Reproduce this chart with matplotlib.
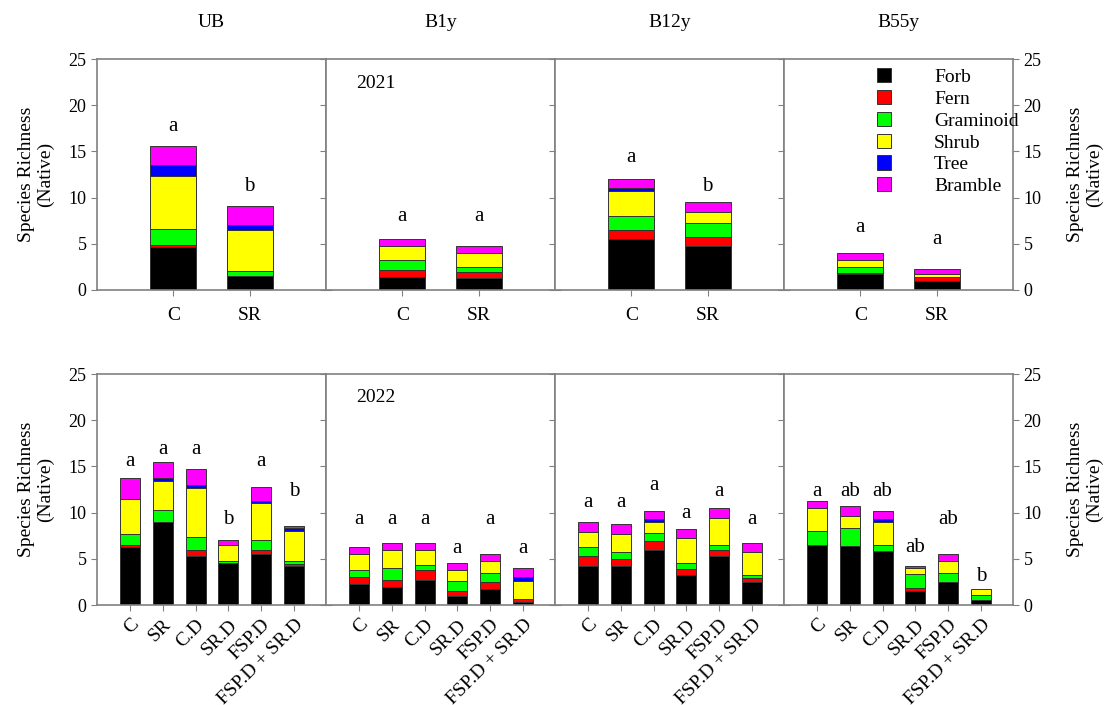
import numpy as np
import matplotlib
matplotlib.use("Agg")
import matplotlib.pyplot as plt
from matplotlib.patches import Patch

plt.rcParams['font.family'] = ['Liberation Serif', 'DejaVu Serif']

sites = ["UB", "B1y", "B12y", "B55y"]
groups_2021 = ["C", "SR"]
groups_2022 = ["C", "SR", "C.D", "SR.D", "FSP.D", "FSP.D + SR.D"]
categories = ["Forb", "Fern", "Graminoid", "Shrub", "Tree", "Bramble"]
colors = ["#000000", "#FF0000", "#00FF00", "#FFFF00", "#0000FF", "#FF00FF"]

# 2021: per site, per category, values for [C, SR]
forb_2021 = [[4.65, 1.5], [1.45, 1.27], [5.5, 4.73], [1.75, 0.95]]
fern_2021 = [[0.2, 0.0], [0.73, 0.69], [1.0, 1.02], [0.1, 0.5]]
gram_2021 = [[1.7, 0.55], [1.12, 0.51], [1.55, 1.52], [0.62, 0.0]]
shrub_2021 = [[5.75, 4.45], [1.43, 1.53], [2.7, 1.2], [0.8, 0.3]]
tree_2021 = [[1.2, 0.55], [0.0, 0.0], [0.3, 0.0], [0.0, 0.0]]
bramble_2021 = [[2.05, 2.0], [0.76, 0.76], [1.0, 1.02], [0.77, 0.5]]
letters_2021 = [["a", "b"], ["a", "a"], ["a", "b"], ["a", "a"]]
letter_y_2021 = [[17.7, 11.2], [8.0, 8.0], [14.3, 11.2], [6.8, 5.5]]

# 2022: per site, per category, values for the six treatments
forb_2022 = [[6.23, 9.0, 5.33, 4.53, 5.5, 4.24],
             [2.25, 2.0, 2.72, 0.98, 1.74, 0.36],
             [4.24, 4.24, 5.98, 3.3, 5.25, 2.5],
             [6.52, 6.34, 5.8, 1.52, 2.54, 0.54]]
fern_2022 = [[0.22, 0.0, 0.65, 0.0, 0.48, 0.25],
             [0.75, 0.72, 1.08, 0.51, 0.76, 0.26],
             [1.01, 0.72, 0.98, 0.61, 0.69, 0.47],
             [0.0, 0.0, 0.0, 0.29, 0.0, 0.0]]
gram_2022 = [[1.27, 1.23, 1.38, 0.22, 1.01, 0.22],
             [0.8, 1.27, 0.48, 1.08, 1.01, 0.0],
             [1.02, 0.76, 0.83, 0.62, 0.58, 0.33],
             [1.45, 1.99, 0.72, 1.52, 0.97, 0.55]]
shrub_2022 = [[3.73, 3.2, 5.28, 1.7, 4.0, 3.26],
              [1.7, 1.99, 1.7, 1.23, 1.2, 2.02],
              [1.66, 2.0, 1.16, 2.72, 2.94, 2.42],
              [2.53, 1.34, 2.43, 0.66, 1.2, 0.69]]
tree_2022 = [[0.0, 0.33, 0.4, 0.0, 0.29, 0.36],
             [0.0, 0.0, 0.0, 0.0, 0.0, 0.36],
             [0.0, 0.0, 0.33, 0.0, 0.0, 0.0],
             [0.0, 0.0, 0.36, 0.0, 0.0, 0.0]]
bramble_2022 = [[2.32, 1.74, 1.67, 0.54, 1.48, 0.22],
                [0.77, 0.72, 0.72, 0.73, 0.79, 0.99],
                [1.06, 1.05, 0.94, 1.01, 1.08, 0.98],
                [0.77, 1.02, 0.91, 0.25, 0.79, 0.0]]
letters_2022 = [["a", "a", "a", "b", "a", "b"],
                ["a", "a", "a", "a", "a", "a"],
                ["a", "a", "a", "a", "a", "a"],
                ["a", "ab", "ab", "ab", "ab", "b"]]
letter_y_2022 = [[15.5, 16.85, 16.85, 9.3, 15.5, 12.3],
                 [9.2, 9.2, 9.2, 6.1, 9.2, 6.1],
                 [11.1, 11.1, 12.97, 9.86, 12.3, 9.2],
                 [12.3, 12.3, 12.3, 6.2, 9.2, 3.1]]

yticks = [0, 5, 10, 15, 20, 25]
ylabel = "Species Richness\n(Native)"

W, H = 1105, 705
fig = plt.figure(figsize=(W / 100, H / 100), dpi=100)

left_px, right_px = 97, 1013
panel_w = (right_px - left_px) / 4
rows = [(59, 290), (374, 605)]
spine_col = "#808080"


def draw_panel(ax, groups, stacks, letters, letter_y, xlim, width, top_row):
    x = np.arange(1, len(groups) + 1)
    bottom = np.zeros(len(groups))
    for vals, col in zip(stacks, colors):
        v = np.array(vals, dtype=float)
        m = v > 0
        ax.bar(x[m], v[m], width=width, bottom=bottom[m], color=col,
               edgecolor="#333333", linewidth=0.7, zorder=2)
        bottom += v
    for xi, lt, ly in zip(x, letters, letter_y):
        ax.text(xi, ly, lt, ha="center", va="center", fontsize=15)
    ax.set_xlim(*xlim)
    ax.set_ylim(0, 25)
    ax.set_xticks(x)
    if top_row:
        ax.set_xticklabels(groups, fontsize=14)
        ax.tick_params(axis="x", pad=8)
    else:
        ax.set_xticklabels(groups, fontsize=14, rotation=45, ha="right",
                           rotation_mode="anchor")
        ax.tick_params(axis="x", pad=4)
    ax.set_yticks(yticks)
    ax.tick_params(axis="both", direction="out", length=4, color=spine_col,
                   labelsize=13)
    ax.tick_params(axis="x", labelsize=14)
    ax.tick_params(axis="y", left=True, right=True, labelleft=False,
                   labelright=False)
    for s in ax.spines.values():
        s.set_color(spine_col)
        s.set_linewidth(1.2)


axes = []
for r, (top, bot) in enumerate(rows):
    for c in range(4):
        l = (left_px + c * panel_w) / W
        b = 1 - bot / H
        h = (bot - top) / H
        ax = fig.add_axes([l, b, panel_w / W, h])
        axes.append(ax)
        if r == 0:
            stacks = [forb_2021[c], fern_2021[c], gram_2021[c],
                      shrub_2021[c], tree_2021[c], bramble_2021[c]]
            draw_panel(ax, groups_2021, stacks, letters_2021[c],
                       letter_y_2021[c], (0, 3), 0.6, True)
            ax.set_title(sites[c], fontsize=14, pad=23)
        else:
            stacks = [forb_2022[c], fern_2022[c], gram_2022[c],
                      shrub_2022[c], tree_2022[c], bramble_2022[c]]
            draw_panel(ax, groups_2022, stacks, letters_2022[c],
                       letter_y_2022[c], (0.0, 6.97), 0.61, False)
        if c == 0:
            ax.tick_params(axis="y", labelleft=True)
            ax.set_ylabel(ylabel, fontsize=14, labelpad=10)
        if c == 3:
            ax.tick_params(axis="y", labelright=True)
            ax.yaxis.set_label_position("right")
            ax.set_ylabel(ylabel, fontsize=14, labelpad=18, rotation=90)

axes[1].text(0.13, 0.896, "2021", transform=axes[1].transAxes, fontsize=14,
             va="center", ha="left")
axes[5].text(0.13, 0.9, "2022", transform=axes[5].transAxes, fontsize=14,
             va="center", ha="left")

handles = [Patch(facecolor=col, edgecolor="#333333", linewidth=0.7)
           for col in colors]
axes[3].legend(handles, categories, loc="upper left",
               bbox_to_anchor=(0.405, 0.96), frameon=False, fontsize=14,
               handlelength=0.75, handleheight=0.75, handletextpad=2.2,
               labelspacing=0.2, borderaxespad=0, borderpad=0)

fig.savefig("out.png", dpi=100)
